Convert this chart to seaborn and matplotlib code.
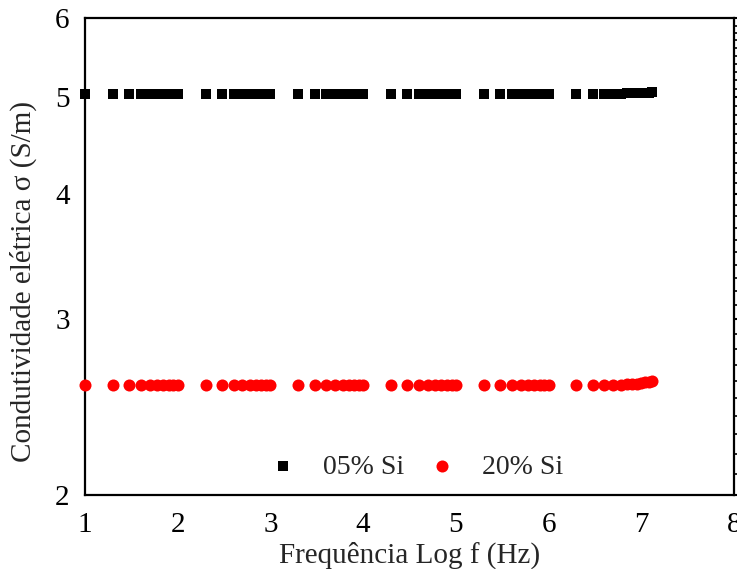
import numpy as np
import pandas as pd
import matplotlib
matplotlib.use("Agg")
import matplotlib.pyplot as plt
from matplotlib.ticker import FixedLocator, FixedFormatter, MultipleLocator, NullFormatter
import seaborn as sns

# log10 of frequency (Hz)
log_f = [1.0, 1.301, 1.477, 1.602, 1.699, 1.778, 1.845, 1.903, 1.954,
         2.0, 2.301, 2.477, 2.602, 2.699, 2.778, 2.845, 2.903, 2.954,
         3.0, 3.301, 3.477, 3.602, 3.699, 3.778, 3.845, 3.903, 3.954,
         4.0, 4.301, 4.477, 4.602, 4.699, 4.778, 4.845, 4.903, 4.954,
         5.0, 5.301, 5.477, 5.602, 5.699, 5.778, 5.845, 5.903, 5.954,
         6.0, 6.301, 6.477, 6.602, 6.699, 6.778, 6.845, 6.903, 6.954,
         7.0, 7.041, 7.079, 7.114]

sigma_05 = [5.04] * 49 + [5.042, 5.043, 5.045, 5.046, 5.048, 5.05, 5.053, 5.056, 5.06]
sigma_20 = [2.575] * 49 + [2.578, 2.58, 2.582, 2.584, 2.586, 2.589, 2.592, 2.595, 2.60]

series_labels = ["05% Si", "20% Si"]
y_ticks = [2, 3, 4, 5, 6]
x_ticks = [1, 2, 3, 4, 5, 6, 7, 8]

sns.set_style("white")
plt.rcParams["font.family"] = ["Liberation Serif", "DejaVu Serif"]

fig = plt.figure(figsize=(7.37, 5.69), dpi=100)
ax = fig.add_axes([0.1153, 0.130, 0.8806, 0.838])

df05 = pd.DataFrame({"x": log_f, "y": sigma_05})
df20 = pd.DataFrame({"x": log_f, "y": sigma_20})
sns.scatterplot(data=df05, x="x", y="y", ax=ax, marker="s", color="black",
                s=45, linewidth=0, label=series_labels[0], clip_on=False, zorder=3)
sns.scatterplot(data=df20, x="x", y="y", ax=ax, marker="o", color="#ff0000",
                s=75, linewidth=0, label=series_labels[1], clip_on=False, zorder=3)

ax.set_yscale("log")
ax.set_xlim(1, 8)
ax.set_ylim(2, 6)
ax.yaxis.set_major_locator(FixedLocator(y_ticks))
ax.yaxis.set_major_formatter(FixedFormatter([str(t) for t in y_ticks]))
ax.yaxis.set_minor_locator(FixedLocator([round(v, 1) for v in np.arange(2.1, 6.0, 0.1) if abs(v - round(v)) > 0.05]))
ax.yaxis.set_minor_formatter(NullFormatter())
ax.xaxis.set_major_locator(FixedLocator(x_ticks))
ax.xaxis.set_minor_locator(MultipleLocator(0.5))

for sp in ax.spines.values():
    sp.set_visible(True)
    sp.set_color("black")
    sp.set_linewidth(1.6)

ax.tick_params(axis="both", which="major", direction="out", length=8, width=1.5,
               labelsize=21, color="black", labelcolor="black", pad=3)
ax.tick_params(axis="x", which="major", pad=4)
ax.tick_params(axis="both", which="minor", direction="out", length=5, width=1.2, color="black")
ax.tick_params(axis="y", which="both", right=True, labelright=False)

ax.set_xlabel("Frequência Log f (Hz)", fontsize=21)
ax.set_ylabel("Condutividade elétrica σ (S/m)", fontsize=21)
ax.xaxis.set_label_coords(0.5, -0.097)
ax.yaxis.set_label_coords(-0.074, 0.447)

leg = ax.legend(loc="center", bbox_to_anchor=(0.5, 0.059), ncol=2, frameon=False,
                fontsize=20, handlelength=2.0, handletextpad=0.45, columnspacing=0.35,
                markerscale=1.0, borderpad=0, borderaxespad=0)

fig.savefig("out.png", dpi=100)
